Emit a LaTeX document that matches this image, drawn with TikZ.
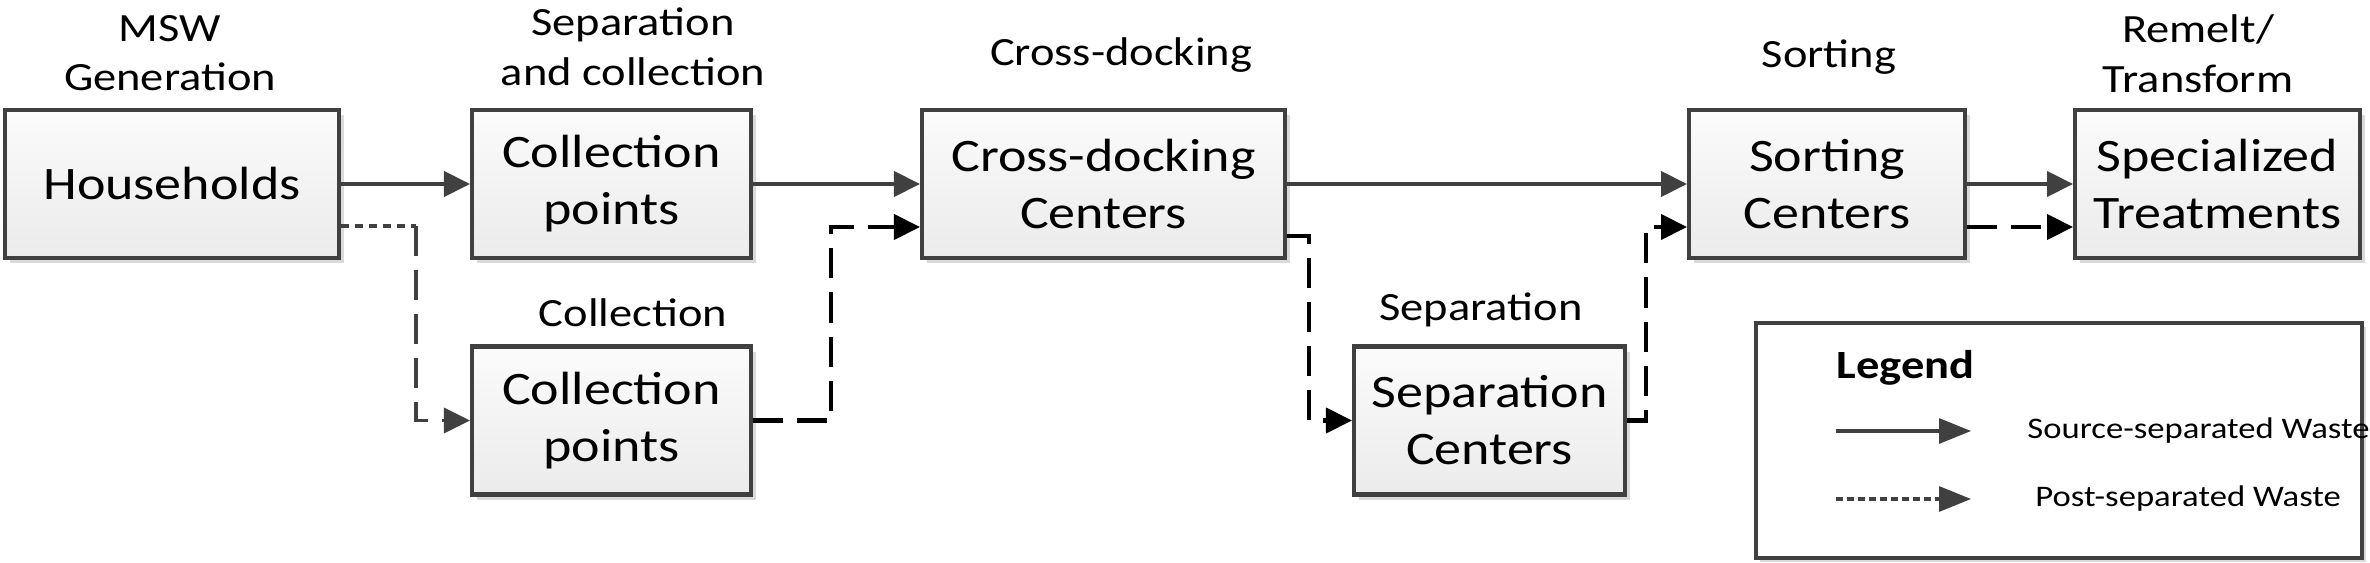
\documentclass[tikz,border=0pt]{standalone}
\usepackage{fontspec}
\setmainfont{Carlito}[FakeStretch=1.16]
\usepackage{xcolor}
\definecolor{flowgray}{RGB}{64,64,64}
\definecolor{boxtop}{RGB}{251,251,251}
\definecolor{boxbottom}{RGB}{235,235,235}
\definecolor{shadowgray}{RGB}{218,218,218}
\usepackage{tikz}
\usetikzlibrary{arrows.meta,shadows}

\begin{document}
\begin{tikzpicture}[
  stage/.style={draw=flowgray, line width=1.15pt, top color=boxtop, bottom color=boxbottom,
    drop shadow={shadow xshift=0.05cm, shadow yshift=-0.05cm, fill=shadowgray, opacity=1},
    align=center, inner sep=0pt, minimum height=1.48cm,
    font=\fontsize{13.25}{16.2}\selectfont},
  phase/.style={align=center, font=\fontsize{11.4}{14.1}\selectfont},
  legtext/.style={anchor=west, font=\fontsize{8.5}{10}\selectfont},
  srcflow/.style={flowgray, line width=1.2pt, -{Triangle[length=0.26cm,width=0.25cm]}},
  postflow/.style={black, line width=1.2pt, dash pattern=on 0.3cm off 0.14cm,
    -{Triangle[length=0.26cm,width=0.25cm]}},
  hhdots/.style={flowgray, line width=1pt, dash pattern=on 0.08cm off 0.06cm},
  hhdash/.style={flowgray, line width=1pt, dash pattern=on 0.3cm off 0.14cm,
    -{Triangle[length=0.26cm,width=0.25cm]}},
  legflow/.style={flowgray, line width=0.9pt, -{Triangle[length=0.32cm,width=0.25cm]}}
]
\useasboundingbox (0,0) rectangle (23.7,-5.63);

% Phase labels
\node[phase] (lgen) at (1.70,-0.53) {MSW\\Generation};
\node[phase] (lsep) at (6.33,-0.47) {Separation\\and collection};
\node[phase] (lcol) at (6.33,-3.13) {Collection};
\node[phase] (lcd) at (11.21,-0.55) {Cross-docking};
\node[phase] (lsepc) at (14.81,-3.10) {Separation};
\node[phase] (lsort) at (18.29,-0.57) {Sorting};
\node[phase] (lrem) at (21.98,-0.54) {Remelt/\\Transform};

% Stages
\node[stage, minimum width=3.34cm] (hh) at (1.72,-1.84) {Households};
\node[stage, minimum width=2.79cm] (cp1) at (6.115,-1.84) {Collection\\points};
\node[stage, minimum width=2.79cm] (cp2) at (6.115,-4.205) {Collection\\points};
\node[stage, minimum width=3.63cm] (cd) at (11.035,-1.84) {Cross-docking\\Centers};
\node[stage, minimum width=2.71cm] (sep) at (14.895,-4.205) {Separation\\Centers};
\node[stage, minimum width=2.76cm] (sort) at (18.27,-1.84) {Sorting\\Centers};
\node[stage, minimum width=2.85cm] (spec) at (22.175,-1.84) {Specialized\\Treatments};

% Source-separated flow
\draw[srcflow] (hh) -- (cp1);
\draw[srcflow] (cp1) -- (cd);
\draw[srcflow] (cd) -- (sort);
\draw[srcflow] (sort) -- (spec);

% Post-separated flow
\coordinate (hhbend) at (4.16,-2.26);
\draw[hhdots] (hh.east |- hhbend) -- (hhbend);
\draw[hhdash] (hhbend) |- (cp2);
\draw[postflow] (cp2.east) -- ++(0.78,0) |- ([yshift=-0.43cm]cd.west);
\draw[postflow] ([yshift=-0.52cm]cd.east) -- ++(0.22,0) |- (sep.west);
\draw[postflow] (sep.east) -- ++(0.19,0) |- ([yshift=-0.43cm]sort.west);
\draw[postflow] ([yshift=-0.43cm]sort.east) -- ([yshift=-0.43cm]spec.west);

% Legend
\node[draw=flowgray, line width=1.15pt, fill=white, minimum width=6.06cm, minimum height=2.35cm,
  drop shadow={shadow xshift=0.04cm, shadow yshift=-0.04cm, fill=shadowgray, opacity=1}]
  (legend) at (20.59,-4.405) {};
\node[anchor=west, font=\fontsize{11.4}{14}\selectfont\bfseries] (legtitle) at (18.24,-3.68) {Legend};
\coordinate (srcA) at (18.36,-4.31);
\coordinate (srcB) at (19.71,-4.31);
\draw[legflow] (srcA) -- (srcB);
\node[legtext] (srclab) at (20.15,-4.31) {Source-separated Waste};
\coordinate (postA) at (18.36,-4.99);
\coordinate (postB) at (19.71,-4.99);
\draw[legflow, dash pattern=on 0.07cm off 0.04cm] (postA) -- (postB);
\node[legtext] (postlab) at (20.23,-4.99) {Post-separated Waste};

\end{tikzpicture}
\end{document}
